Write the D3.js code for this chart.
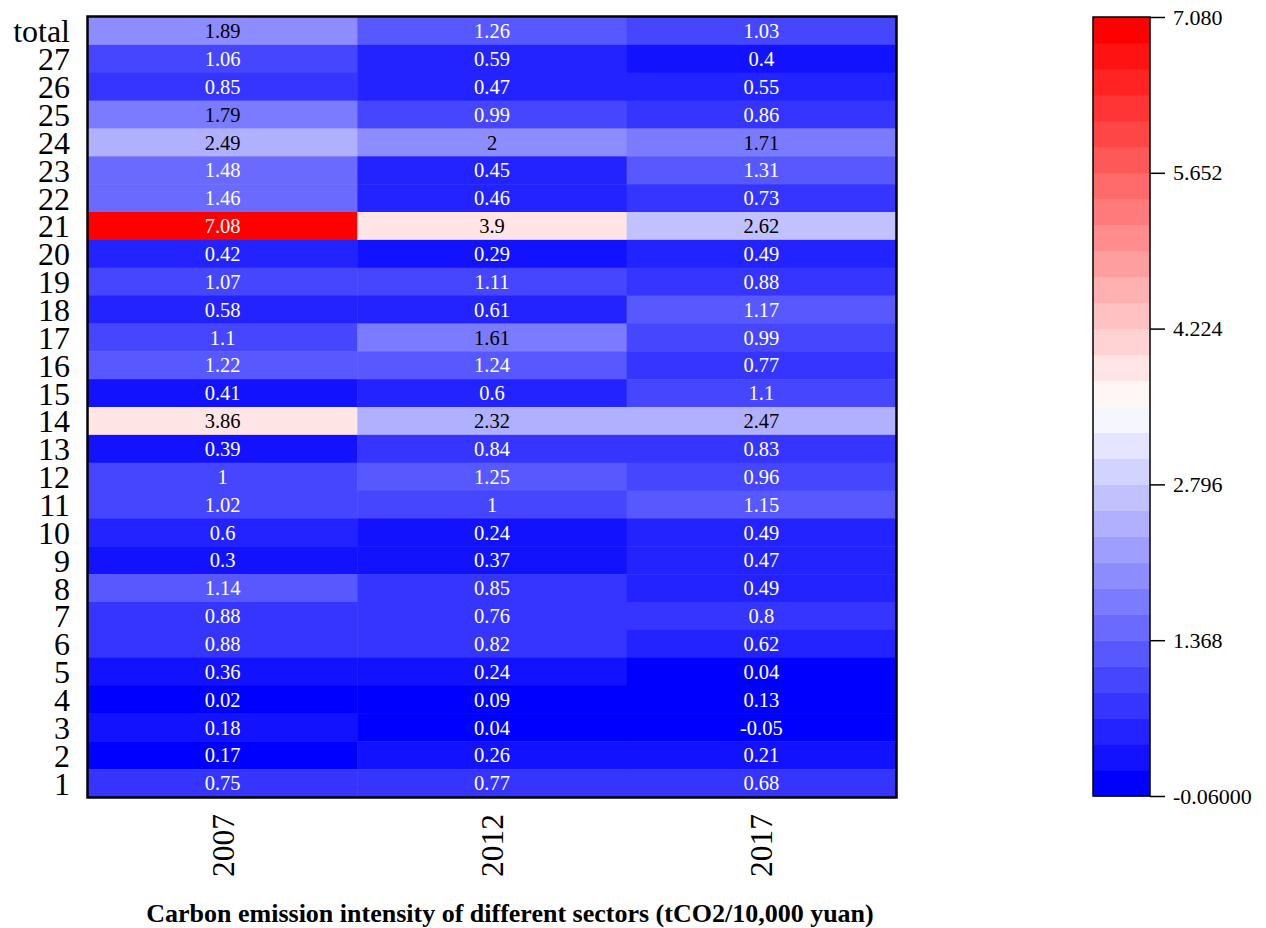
<!DOCTYPE html>
<html>
<head>
<meta charset="utf-8">
<script src="https://cdn.jsdelivr.net/npm/d3@7"></script>
<style>
  html, body { margin: 0; padding: 0; background: #fff; }
  svg { display: block; }
  text { font-family: "Liberation Serif", "Times New Roman", serif; }
</style>
</head>
<body>
<svg id="chart" width="1266" height="928"></svg>
<script>
// ---- data ----
const rowLabels = ["total","27","26","25","24","23","22","21","20","19","18","17","16","15","14","13","12","11","10","9","8","7","6","5","4","3","2","1"];
const years = ["2007","2012","2017"];
const values2007 = [1.89,1.06,0.85,1.79,2.49,1.48,1.46,7.08,0.42,1.07,0.58,1.1,1.22,0.41,3.86,0.39,1,1.02,0.6,0.3,1.14,0.88,0.88,0.36,0.02,0.18,0.17,0.75];
const values2012 = [1.26,0.59,0.47,0.99,2,0.45,0.46,3.9,0.29,1.11,0.61,1.61,1.24,0.6,2.32,0.84,1.25,1,0.24,0.37,0.85,0.76,0.82,0.24,0.09,0.04,0.26,0.77];
const values2017 = [1.03,0.4,0.55,0.86,1.71,1.31,0.73,2.62,0.49,0.88,1.17,0.99,0.77,1.1,2.47,0.83,0.96,1.15,0.49,0.47,0.49,0.8,0.62,0.04,0.13,-0.05,0.21,0.68];
const colorbarTicks = [-0.06, 1.368, 2.796, 4.224, 5.652, 7.08];
const colorbarTickLabels = ["-0.06000","1.368","2.796","4.224","5.652","7.080"];
const colorMin = -0.06, colorMax = 7.08, nBands = 30;
const title = "Carbon emission intensity of different sectors (tCO2/10,000 yuan)";

const series = [values2007, values2012, values2017];
const cells = [];
series.forEach((vals, j) => vals.forEach((v, i) => cells.push({year: years[j], row: rowLabels[i], value: v})));

// ---- layout ----
const svg = d3.select("#chart");
const plot = {left: 88, top: 17, right: 896, bottom: 797};

const x = d3.scaleBand().domain(years).range([plot.left, plot.right]).padding(0);
const y = d3.scaleBand().domain(rowLabels).range([plot.top, plot.bottom]).padding(0);

const interp = d3.piecewise(d3.interpolateRgb, ["#0000ff", "#ffffff", "#ff0000"]);
const bandColors = d3.range(nBands).map(k => interp(k / (nBands - 1)));
const color = d3.scaleQuantize().domain([colorMin, colorMax]).range(bandColors);

function textColor(v) {
  const c = d3.rgb(color(v));
  const lin = u => { u /= 255; return u <= 0.04045 ? u / 12.92 : Math.pow((u + 0.055) / 1.055, 2.4); };
  const L = 0.2126 * lin(c.r) + 0.7152 * lin(c.g) + 0.0722 * lin(c.b);
  return L > 0.235 ? "#000" : "#fff";
}

// cells
svg.append("g").selectAll("rect").data(cells).join("rect")
  .attr("x", d => x(d.year))
  .attr("y", d => y(d.row))
  .attr("width", x.bandwidth() + 0.5)
  .attr("height", y.bandwidth() + 0.5)
  .attr("fill", d => color(d.value));

svg.append("g").selectAll("text").data(cells).join("text")
  .attr("x", d => x(d.year) + x.bandwidth() / 2)
  .attr("y", d => y(d.row) + y.bandwidth() / 2)
  .attr("dy", "0.35em")
  .attr("text-anchor", "middle")
  .attr("font-size", 20.5)
  .attr("fill", d => textColor(d.value))
  .text(d => String(d.value));

// frame
svg.append("rect")
  .attr("x", plot.left - 0.5).attr("y", plot.top - 0.5)
  .attr("width", plot.right - plot.left + 1).attr("height", plot.bottom - plot.top + 1)
  .attr("fill", "none").attr("stroke", "#000").attr("stroke-width", 2.5);

// y axis labels
const yAxis = d3.axisLeft(y).tickSize(0).tickPadding(18);
const gy = svg.append("g").attr("transform", `translate(${plot.left},0)`).call(yAxis);
gy.select(".domain").remove();
gy.selectAll("text").attr("font-size", 32).attr("font-family", "Liberation Serif").attr("fill", "#000").attr("dy", "0.36em");

// x axis labels (rotated)
const xAxis = d3.axisBottom(x).tickSize(0).tickPadding(0);
const gx = svg.append("g").attr("transform", `translate(0,${plot.bottom})`).call(xAxis);
gx.select(".domain").remove();
gx.selectAll("text")
  .attr("font-size", 31.5).attr("font-family", "Liberation Serif").attr("fill", "#000")
  .attr("transform", "rotate(-90)")
  .attr("text-anchor", "end")
  .attr("x", -17).attr("y", 0).attr("dy", "0.35em");

// title
svg.append("text")
  .attr("x", 510).attr("y", 922)
  .attr("text-anchor", "middle")
  .attr("font-size", 26).attr("font-weight", "bold")
  .text(title);

// colorbar
const cb = {left: 1093, right: 1150, top: 17, bottom: 796};
const cy = d3.scaleLinear().domain([colorMin, colorMax]).range([cb.bottom, cb.top]);
const step = (colorMax - colorMin) / nBands;
const bands = d3.range(nBands).map(k => ({lo: colorMin + k * step, hi: colorMin + (k + 1) * step, c: bandColors[k]}));
svg.append("g").selectAll("rect").data(bands).join("rect")
  .attr("x", cb.left)
  .attr("y", d => cy(d.hi))
  .attr("width", cb.right - cb.left)
  .attr("height", d => cy(d.lo) - cy(d.hi) + 0.5)
  .attr("fill", d => d.c);
svg.append("rect")
  .attr("x", cb.left).attr("y", cb.top)
  .attr("width", cb.right - cb.left).attr("height", cb.bottom - cb.top)
  .attr("fill", "none").attr("stroke", "#000").attr("stroke-width", 1.5);

const cAxis = d3.axisRight(cy).tickValues(colorbarTicks).tickSize(15).tickPadding(8)
  .tickFormat((d, i) => colorbarTickLabels[i]);
const gc = svg.append("g").attr("transform", `translate(${cb.right},0)`).call(cAxis);
gc.select(".domain").remove();
gc.selectAll("line").attr("stroke", "#000").attr("stroke-width", 1.5);
gc.selectAll("text").attr("font-size", 22).attr("font-family", "Liberation Serif").attr("fill", "#000");
</script>
</body>
</html>
